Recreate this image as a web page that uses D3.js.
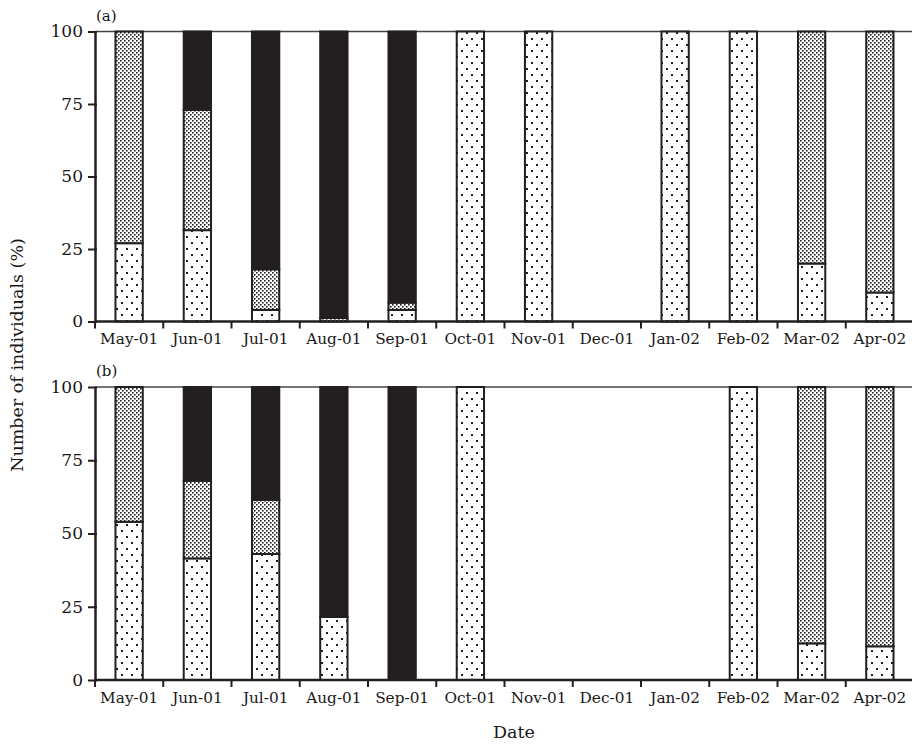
<!DOCTYPE html>
<html>
<head>
<meta charset="utf-8">
<script src="https://cdn.jsdelivr.net/npm/d3@7/dist/d3.min.js"></script>
<style>
  html, body { margin: 0; padding: 0; background: #fff; }
  svg { display: block; }
  text { font-family: "DejaVu Serif", "Liberation Serif", serif; fill: #1a1718; }
</style>
</head>
<body>
<svg id="chart" width="912" height="746"></svg>
<script>
// Months sampled
const months = ["May-01", "Jun-01", "Jul-01", "Aug-01", "Sep-01", "Oct-01",
                "Nov-01", "Dec-01", "Jan-02", "Feb-02", "Mar-02", "Apr-02"];

// Stack order (bottom to top)
const stages = ["sparse", "dense", "solid"];

// Panel (a): percentage of individuals in each class per month
const aSparse = [27, 31.5, 4, 0, 4, 100, 100, 0, 100, 100, 20, 10];
const aDense  = [73, 41.5, 14, 1.2, 2.5, 0, 0, 0, 0, 0, 80, 90];
const aSolid  = [0, 27, 82, 98.8, 93.5, 0, 0, 0, 0, 0, 0, 0];

// Panel (b)
const bSparse = [54, 41.5, 43, 21.5, 0, 100, 0, 0, 0, 100, 12.5, 11.5];
const bDense  = [46, 26.5, 18.5, 0, 0, 0, 0, 0, 0, 0, 87.5, 88.5];
const bSolid  = [0, 32, 38.5, 78.5, 100, 0, 0, 0, 0, 0, 0, 0];

const yTicks = [0, 25, 50, 75, 100];

const svg = d3.select("#chart");
const ink = "#231f20";

// Fill patterns
const defs = svg.append("defs");
const pSparse = defs.append("pattern").attr("id", "pat-sparse")
  .attr("patternUnits", "userSpaceOnUse").attr("width", 10).attr("height", 12);
pSparse.append("rect").attr("width", 10).attr("height", 12).attr("fill", "#fff");
pSparse.append("rect").attr("x", 1).attr("y", 2).attr("width", 2).attr("height", 2).attr("fill", ink);
pSparse.append("rect").attr("x", 6).attr("y", 8).attr("width", 2).attr("height", 2).attr("fill", ink);

const pDense = defs.append("pattern").attr("id", "pat-dense")
  .attr("patternUnits", "userSpaceOnUse").attr("width", 4).attr("height", 4);
pDense.append("rect").attr("width", 4).attr("height", 4).attr("fill", "#fff");
pDense.append("rect").attr("x", 0).attr("y", 0).attr("width", 1.6).attr("height", 1.6).attr("fill", ink);
pDense.append("rect").attr("x", 2).attr("y", 2).attr("width", 1.6).attr("height", 1.6).attr("fill", ink);

const fills = { sparse: "url(#pat-sparse)", dense: "url(#pat-dense)", solid: ink };

const x = d3.scaleBand().domain(months).range([95, 914])
  .paddingInner(0.6).paddingOuter(0.3);

function panel(tag, top, bottom, sparse, dense, solid) {
  const y = d3.scaleLinear().domain([0, 100]).range([bottom, top]);
  const rows = months.map((m, i) => ({ month: m, sparse: sparse[i], dense: dense[i], solid: solid[i] }));
  const series = d3.stack().keys(stages)(rows);

  const g = svg.append("g");

  // Top border of the plotting area
  g.append("line").attr("x1", 95).attr("x2", 914).attr("y1", top).attr("y2", top)
    .attr("stroke", "#444").attr("stroke-width", 1.5);

  // Stacked bars
  series.forEach(s => {
    g.append("g").selectAll("rect")
      .data(s.filter(d => d[1] - d[0] > 0))
      .join("rect")
      .attr("x", d => x(d.data.month))
      .attr("width", x.bandwidth())
      .attr("y", d => y(d[1]))
      .attr("height", d => y(d[0]) - y(d[1]))
      .attr("fill", fills[s.key])
      .attr("stroke", ink)
      .attr("stroke-width", 2);
  });

  // Y axis
  const ya = g.append("g").attr("transform", "translate(95,0)")
    .call(d3.axisLeft(y).tickValues(yTicks).tickSize(8).tickPadding(4).tickSizeOuter(0));
  ya.select(".domain").attr("stroke", ink).attr("stroke-width", 2.5);
  ya.selectAll(".tick line").attr("stroke", ink).attr("stroke-width", 2).attr("x2", -7).attr("x1", 2);
  ya.selectAll(".tick text").attr("font-size", 17).attr("font-family", "DejaVu Serif").attr("fill", "#1a1718");

  // X axis: labels at month centres, ticks at month boundaries
  const xa = g.append("g").attr("transform", `translate(0,${bottom})`)
    .call(d3.axisBottom(x).tickSize(0).tickPadding(12).tickSizeOuter(0));
  xa.select(".domain").attr("stroke", ink).attr("stroke-width", 2.5)
    .attr("d", `M95,0H914`);
  xa.selectAll(".tick text").attr("font-size", 15.3).attr("font-family", "DejaVu Serif").attr("fill", "#1a1718");
  const step = x.step();
  g.append("g").selectAll("line")
    .data(months)
    .join("line")
    .attr("x1", (d, i) => 95 + i * step)
    .attr("x2", (d, i) => 95 + i * step)
    .attr("y1", bottom)
    .attr("y2", bottom + 7)
    .attr("stroke", ink).attr("stroke-width", 2);

  // Panel tag
  g.append("text").attr("x", 96).attr("y", top - 11)
    .attr("font-size", 15).text(tag);
}

panel("(a)", 31.5, 321.5, aSparse, aDense, aSolid);
panel("(b)", 387, 680, bSparse, bDense, bSolid);

// Axis titles
svg.append("text").attr("x", 514).attr("y", 738).attr("text-anchor", "middle")
  .attr("font-size", 17.5).text("Date");
svg.append("text").attr("transform", "translate(23,355) rotate(-90)")
  .attr("text-anchor", "middle").attr("font-size", 17.5)
  .text("Number of individuals (%)");
</script>
</body>
</html>
